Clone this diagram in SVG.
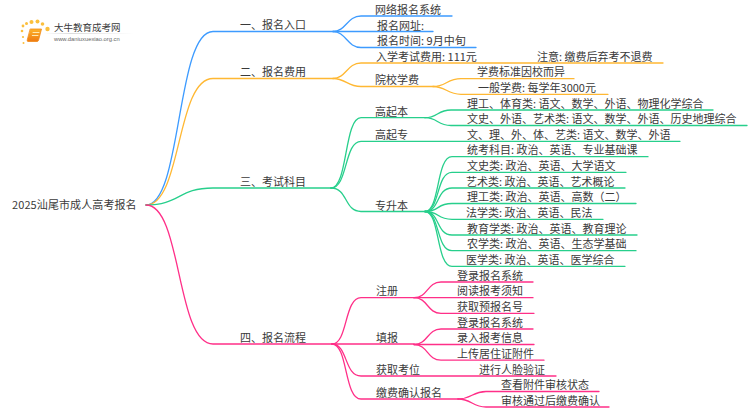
<svg xmlns="http://www.w3.org/2000/svg" width="750" height="410" viewBox="0 0 750 410">
<defs><linearGradient id="fade" x1="0" x2="1" y1="0" y2="0"><stop offset="0" stop-color="#ccc" stop-opacity="0"/><stop offset=".3" stop-color="#ccc"/><stop offset="1" stop-color="#ccc" stop-opacity="0"/></linearGradient>
<linearGradient id="book" x1="0" x2="0" y1="0" y2="1"><stop offset="0" stop-color="#fdb32a"/><stop offset="1" stop-color="#ee7a12"/></linearGradient></defs>
<style>
text{font-family:"Noto Sans CJK SC","Liberation Sans",sans-serif;font-size:11px;fill:#3a3a3a}
path{fill:none;stroke-width:1.3;stroke-linecap:round}
.b path{stroke:#3d9bff}.o path{stroke:#ffb833}.g path{stroke:#27cf8c}.p path{stroke:#ff2f88}
</style>
<rect width="750" height="410" fill="#fff"/>
<g id="connectors">
<g class="b">
<path d="M146 205C182 205 176 31.5 213 31.5H333"/>
<path d="M333 31.5C346 31.5 347 16 361 16H452"/>
<path d="M333 31.5H433"/>
<path d="M333 31.5C346 31.5 347 47.500 361 47.500H476"/>
</g>
<g class="o">
<path d="M146 205C182 205 176 78.500 213 78.500H333"/>
<path d="M333 78.500C346 78.500 347 63 361 63H663"/>
<path d="M333 78.500C346 78.500 347 86.500 361 86.500H433"/>
<path d="M433 86.500C446 86.500 447 78.700 461 78.700H574"/>
<path d="M433 86.500C446 86.500 447 94.300 461 94.300H608"/>
</g>
<g class="g">
<path d="M146 205C180 205 178 188 213 188H331"/>
<path d="M331 188C348 188 344 117.700 361 117.700H425"/>
<path d="M331 188C348 188 344 141.300 361 141.300H680"/>
<path d="M331 188C348 188 344 211.500 361 211.500H425"/>
<path d="M425 117.700C438 117.700 437 110 451 110H713"/>
<path d="M425 117.700C438 117.700 437 125.500 451 125.500H747"/>
<path d="M425 211.500C440 211.500 436 156.700 452 156.700H648"/>
<path d="M425 211.500C440 211.500 436 172.300 452 172.300H626"/>
<path d="M425 211.500C440 211.500 436 188 452 188H625"/>
<path d="M425 211.500C440 211.500 436 203.500 452 203.500H636"/>
<path d="M425 211.500C440 211.500 436 219.300 452 219.300H603"/>
<path d="M425 211.500C440 211.500 436 235 452 235H637"/>
<path d="M425 211.500C440 211.500 436 250.700 452 250.700H636"/>
<path d="M425 211.500C440 211.500 436 266.300 452 266.300H625"/>
</g>
<g class="p">
<path d="M146 205C182 205 176 344 213 344H332"/>
<path d="M332 344C348 344 344 297.700 361 297.700H414"/>
<path d="M332 344H414"/>
<path d="M332 344C348 344 344 376 361 376H556"/>
<path d="M332 344C348 344 344 399 361 399H458"/>
<path d="M414 297.700C428 297.700 427 282 441 282H533"/>
<path d="M414 297.700H533"/>
<path d="M414 297.700C428 297.700 427 313.300 441 313.300H534"/>
<path d="M414 344.500C428 344.500 427 329 441 329H533"/>
<path d="M414 344.500H534"/>
<path d="M414 344.500C428 344.500 427 360.200 441 360.200H544"/>
<path d="M458 399C472 399 472 391.500 486 391.500H599"/>
<path d="M458 399C472 399 472 407 486 407H609"/>
</g>
</g>
<g id="logo">
<g fill="#fbbf3c"><circle cx="22" cy="31" r="1.300"/><circle cx="23" cy="26" r="1.400"/><circle cx="26.500" cy="23.500" r="1.500"/><circle cx="31.500" cy="22" r="2"/><circle cx="37.500" cy="21.500" r="2"/><circle cx="42.500" cy="24" r="1.800"/><circle cx="47.500" cy="29" r="2.200"/><circle cx="23" cy="37" r="1.100"/><circle cx="23.500" cy="43" r="1"/></g>
<path d="M30.500 29H41.500L38.500 40.500Q38 41.500 37 41.500H28Q26.800 41.500 27.200 40Z" style="fill:url(#book);stroke:#f08a18;stroke-width:.8"/>
<path d="M33 32.500H39M32.300 35.500H38" style="stroke:#ffe9b0;stroke-width:1"/>
<text id="logo-title" x="54" y="31" style="font-size:9.500px">大牛教育成考网</text>
<rect x="44" y="33" width="90" height=".7" fill="url(#fade)"/>
<text id="logo-url" x="54" y="41" style="font-family:'Liberation Sans',sans-serif;font-size:5.800px;fill:#666">www.daniuxuexiao.org.cn</text>
</g>
<g id="root"><text x="12" y="209" style="letter-spacing:.1px">2025汕尾市成人高考报名</text></g>
<g id="n1"><text x="240" y="29">一、报名入口</text></g>
<g id="n2"><text x="240" y="76">二、报名费用</text></g>
<g id="n3"><text x="240" y="185.500">三、考试科目</text></g>
<g id="n4"><text x="240" y="341.500">四、报名流程</text></g>
<g id="n1-1"><text x="375" y="14">网络报名系统</text></g>
<g id="n1-2"><text x="377" y="29.500">报名网址:</text></g>
<g id="n1-3"><text x="377" y="45">报名时间: 9月中旬</text></g>
<g id="n2-1"><text x="376" y="60.500">入学考试费用: 111元</text></g>
<g id="n2-1-1"><text x="537" y="60.500">注意: 缴费后弃考不退费</text></g>
<g id="n2-2"><text x="375" y="84">院校学费</text></g>
<g id="n2-2-1"><text x="477" y="76">学费标准因校而异</text></g>
<g id="n2-2-2"><text x="478" y="92">一般学费: 每学年3000元</text></g>
<g id="n3-1"><text x="375" y="116">高起本</text></g>
<g id="n3-2"><text x="375" y="139">高起专</text></g>
<g id="n3-3"><text x="375" y="210">专升本</text></g>
<g id="n3-1-1"><text x="467" y="107.500">理工、体育类: 语文、数学、外语、物理化学综合</text></g>
<g id="n3-1-2"><text x="467" y="123">文史、外语、艺术类: 语文、数学、外语、历史地理综合</text></g>
<g id="n3-2-1"><text x="467" y="139">文、理、外、体、艺类: 语文、数学、外语</text></g>
<g id="n3-3-1"><text x="467" y="154">统考科目: 政治、英语、专业基础课</text></g>
<g id="n3-3-2"><text x="467" y="170">文史类: 政治、英语、大学语文</text></g>
<g id="n3-3-3"><text x="466" y="185.500">艺术类: 政治、英语、艺术概论</text></g>
<g id="n3-3-4"><text x="467" y="201">理工类: 政治、英语、高数（二）</text></g>
<g id="n3-3-5"><text x="466" y="217">法学类: 政治、英语、民法</text></g>
<g id="n3-3-6"><text x="467" y="232.500">教育学类: 政治、英语、教育理论</text></g>
<g id="n3-3-7"><text x="467" y="248">农学类: 政治、英语、生态学基础</text></g>
<g id="n3-3-8"><text x="466" y="264">医学类: 政治、英语、医学综合</text></g>
<g id="n4-1"><text x="376" y="295">注册</text></g>
<g id="n4-2"><text x="376" y="342">填报</text></g>
<g id="n4-3"><text x="376" y="373.500">获取考位</text></g>
<g id="n4-4"><text x="376" y="397">缴费确认报名</text></g>
<g id="n4-1-1"><text x="457" y="279.500">登录报名系统</text></g>
<g id="n4-1-2"><text x="457" y="295">阅读报考须知</text></g>
<g id="n4-1-3"><text x="457" y="310.500">获取预报名号</text></g>
<g id="n4-2-1"><text x="457" y="326.500">登录报名系统</text></g>
<g id="n4-2-2"><text x="457" y="342">录入报考信息</text></g>
<g id="n4-2-3"><text x="457" y="358">上传居住证附件</text></g>
<g id="n4-3-1"><text x="479" y="373.500">进行人脸验证</text></g>
<g id="n4-4-1"><text x="501" y="389">查看附件审核状态</text></g>
<g id="n4-4-2"><text x="501" y="404.500">审核通过后缴费确认</text></g>
</svg>
